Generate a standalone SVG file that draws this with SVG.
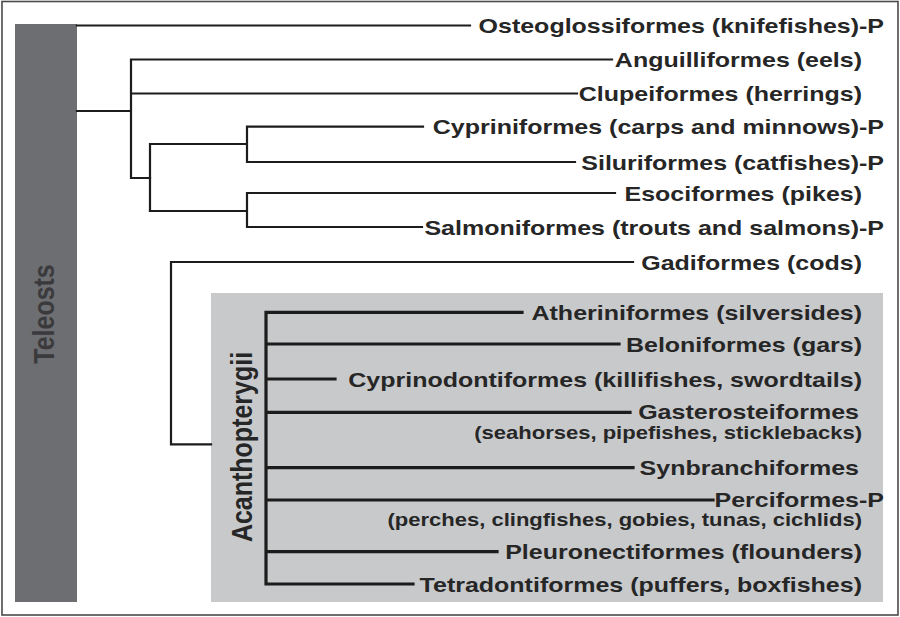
<svg xmlns="http://www.w3.org/2000/svg" width="900" height="617" viewBox="0 0 900 617">
<style>
.lbl{font-family:"Liberation Sans",Arial,sans-serif;font-weight:bold;font-size:21px;fill:#262626;text-anchor:end}
.sub{font-family:"Liberation Sans",Arial,sans-serif;font-weight:bold;font-size:18.5px;fill:#262626;text-anchor:end}
.vert{font-family:"Liberation Sans",Arial,sans-serif;font-weight:bold;font-size:25px;text-anchor:middle}
.thin{fill:none;stroke:#1c1c1c;stroke-width:2.2;stroke-linejoin:miter;stroke-linecap:square}
.thick{fill:none;stroke:#1c1c1c;stroke-width:3.2;stroke-linejoin:miter;stroke-linecap:square}
</style>
<rect x="0" y="0" width="900" height="617" fill="#ffffff"/>
<rect x="2" y="1.5" width="896" height="613.5" fill="none" stroke="#4a4a4a" stroke-width="1.6"/>
<g id="acanthopterygii-box">
<rect x="211" y="293" width="672" height="309" fill="#c8c9cb"/>
</g>
<g id="teleosts">
<rect x="15" y="24" width="62" height="578" fill="#6d6e71"/>
<text class="vert" fill="#3a3a3c" transform="translate(54,314) scale(1.19,1) rotate(-90)">Teleosts</text>
</g>
<g id="connectors">
<path class="thin" d="M77,25.5 H470"/>
<path class="thin" d="M77,111 H131 M131,59.5 V178 H150 M131,59.5 H612 M131,93.5 H577"/>
<path class="thin" d="M150,144 V211 M150,144 H247 M247,126.7 V162 M247,126.7 H423 M247,162 H575"/>
<path class="thin" d="M150,211 H247 M247,193 V227 M247,193 H615 M247,227 H422"/>
<path class="thin" d="M211,444.3 H171 V262 H633"/>
<path class="thick" d="M266,312.3 V584 M266,312.3 H522 M266,344 H619 M266,379 H335 M266,412.3 H630 M266,467.7 H633 M266,500 H713 M266,551.7 H497 M266,584 H413"/>
</g>
<g id="acanthopterygii-label">
<text class="vert" fill="#262626" transform="translate(252,447) scale(1.19,1) rotate(-90)">Acanthopterygii</text>
</g>
<g id="osteoglossiformes"><text class="lbl" transform="translate(884,33) scale(1.19,1)">Osteoglossiformes (knifefishes)-P</text></g>
<g id="anguilliformes"><text class="lbl" transform="translate(862,67) scale(1.19,1)">Anguilliformes (eels)</text></g>
<g id="clupeiformes"><text class="lbl" transform="translate(862,101) scale(1.19,1)">Clupeiformes (herrings)</text></g>
<g id="cypriniformes"><text class="lbl" transform="translate(884,134) scale(1.19,1)">Cypriniformes (carps and minnows)-P</text></g>
<g id="siluriformes"><text class="lbl" transform="translate(884,169.5) scale(1.19,1)">Siluriformes (catfishes)-P</text></g>
<g id="esociformes"><text class="lbl" transform="translate(862,200.5) scale(1.19,1)">Esociformes (pikes)</text></g>
<g id="salmoniformes"><text class="lbl" transform="translate(884,234.5) scale(1.19,1)">Salmoniformes (trouts and salmons)-P</text></g>
<g id="gadiformes"><text class="lbl" transform="translate(862,269.5) scale(1.19,1)">Gadiformes (cods)</text></g>
<g id="atheriniformes"><text class="lbl" transform="translate(862,320) scale(1.19,1)">Atheriniformes (silversides)</text></g>
<g id="beloniformes"><text class="lbl" transform="translate(862,351.5) scale(1.19,1)">Beloniformes (gars)</text></g>
<g id="cyprinodontiformes"><text class="lbl" transform="translate(862,387) scale(1.19,1)">Cyprinodontiformes (killifishes, swordtails)</text></g>
<g id="gasterosteiformes">
<text class="lbl" transform="translate(859,418.5) scale(1.19,1)">Gasterosteiformes</text>
<text class="sub" transform="translate(862,439) scale(1.19,1)">(seahorses, pipefishes, sticklebacks)</text>
</g>
<g id="synbranchiformes"><text class="lbl" transform="translate(859,475) scale(1.19,1)">Synbranchiformes</text></g>
<g id="perciformes">
<text class="lbl" transform="translate(884,507) scale(1.19,1)">Perciformes-P</text>
<text class="sub" transform="translate(862,525.5) scale(1.19,1)">(perches, clingfishes, gobies, tunas, cichlids)</text>
</g>
<g id="pleuronectiformes"><text class="lbl" transform="translate(862,558.5) scale(1.19,1)">Pleuronectiformes (flounders)</text></g>
<g id="tetradontiformes"><text class="lbl" transform="translate(862,591.5) scale(1.19,1)">Tetradontiformes (puffers, boxfishes)</text></g>
</svg>
